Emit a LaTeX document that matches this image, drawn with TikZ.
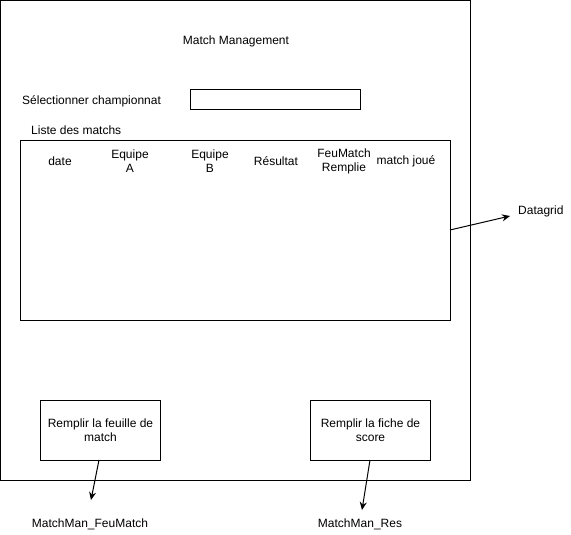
\documentclass[tikz,border=0pt]{standalone}
\usepackage{fontspec}
\setmainfont{Liberation Sans}
\usetikzlibrary{arrows.meta}
\begin{document}
\begin{tikzpicture}[x=1pt,y=-1pt,
  every node/.style={font=\fontsize{12}{14}\selectfont, inner sep=0pt},
  box/.style={draw, line width=1pt},
  lbl/.style={align=center},
  arr/.style={draw, line width=1pt, -{Stealth[length=8pt,width=7pt]}}]
\useasboundingbox (0,0) rectangle (571,535);
\draw[box] (0.5,0.5) rectangle (470,480);
\node (title) at (236,41) {Match Management};
\node[anchor=west] (sel) at (22,101) {Sélectionner championnat};
\draw[box] (190,90) rectangle (360,110);
\node[anchor=west] (liste) at (31,130) {Liste des matchs};
\node[box, minimum width=430pt, minimum height=180pt, anchor=north west] (grid) at (20,140) {};
\node[lbl] (c1) at (60,161) {date};
\node[lbl] (c2) at (130,161) {Equipe\\A};
\node[lbl] (c3) at (210,161) {Equipe\\B};
\node[lbl] (c4) at (276,161) {Résultat};
\node[lbl] (c5) at (344,161) {FeuMatch\\Remplie};
\node[lbl] (c6) at (406,161) {match joué};
\coordinate (gs) at (450,230);
\node[anchor=west] (dg) at (518,211) {Datagrid};
\coordinate (ge) at (510,216);
\draw[arr] (gs) -- (ge);
\node[box, lbl, minimum width=120pt, minimum height=60pt, anchor=north west] (b1) at (40,400) {Remplir la feuille de\\match};
\node[box, lbl, minimum width=120pt, minimum height=60pt, anchor=north west] (b2) at (310,400) {Remplir la fiche de\\score};
\node (l1) at (90,524) {MatchMan\_FeuMatch};
\node (l2) at (360,524) {MatchMan\_Res};
\coordinate (e1) at (91,500);
\coordinate (e2) at (362,510);
\draw[arr] (99,460) -- (e1);
\draw[arr] (370,460) -- (e2);
\end{tikzpicture}
\end{document}
